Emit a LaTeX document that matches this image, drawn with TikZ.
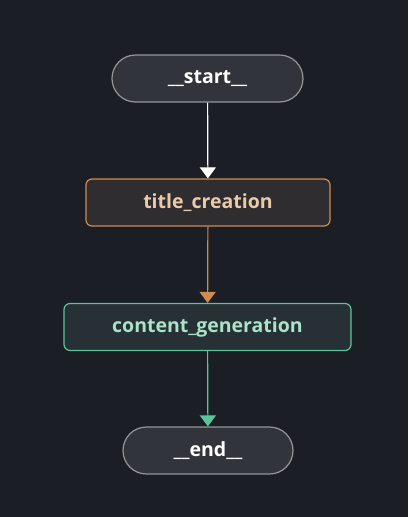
\documentclass[tikz,border=0pt]{standalone}
\usepackage{fontspec}
\setmainfont{Open Sans}
\usetikzlibrary{arrows.meta}
\definecolor{bgdark}{RGB}{27,30,36}
\definecolor{nodegray}{RGB}{50,52,59}
\definecolor{edgegray}{RGB}{150,150,150}
\definecolor{warmfill}{RGB}{47,45,48}
\definecolor{warmline}{RGB}{206,140,78}
\definecolor{warmtext}{RGB}{234,202,168}
\definecolor{greenfill}{RGB}{39,49,53}
\definecolor{greenline}{RGB}{92,196,154}
\definecolor{greentext}{RGB}{170,226,202}

\begin{document}
\begin{tikzpicture}[x=1pt,y=-1pt,
  terminal/.style={draw=edgegray,fill=nodegray,text=white,line width=1.2pt,
    rounded corners=23.5pt,minimum height=47pt,font=\fontsize{19.5}{22}\selectfont\bfseries},
  stepbox/.style={line width=1.2pt,rounded corners=6pt,minimum height=47pt,
    font=\fontsize{19.5}{22}\selectfont\bfseries},
  flow/.style={line width=1.2pt,-{Triangle[width=16pt,length=11pt]}}]
  % background and frame
  \fill[bgdark] (0,0) rectangle (408,517);
  \useasboundingbox (0,0) rectangle (408,517);
  % nodes
  \node[terminal,minimum width=191pt] (start) at (207.5,78.5) {\_\_start\_\_};
  \node[stepbox,draw=warmline,fill=warmfill,text=warmtext,minimum width=244pt]
    (title) at (208,202.5) {title\_creation};
  \node[stepbox,draw=greenline,fill=greenfill,text=greentext,minimum width=287pt]
    (content) at (207.5,327) {content\_generation};
  \node[terminal,minimum width=170pt] (end) at (208,450.5) {\_\_end\_\_};
  % edges
  \draw[flow,white] (start) -- (title);
  \draw[flow,warmline] (title) -- (content);
  \draw[flow,greenline] (content) -- (end);
\end{tikzpicture}
\end{document}
